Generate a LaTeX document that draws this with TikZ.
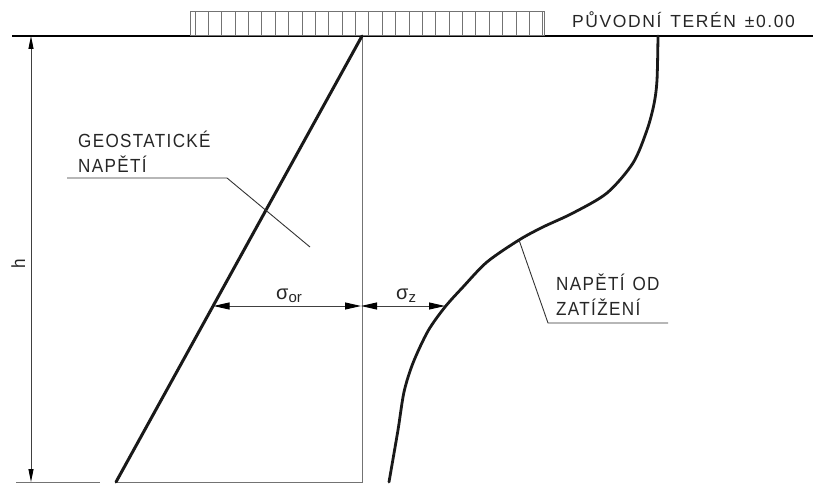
\documentclass[tikz,border=0pt]{standalone}
\usepackage{fontspec}
\setmainfont{Liberation Sans}
\newfontfamily\lblfont[LetterSpace=7,FakeStretch=0.9]{Liberation Sans}
\newfontfamily\topfont[LetterSpace=9]{Liberation Sans}
\usetikzlibrary{arrows.meta}
\begin{document}
\begin{tikzpicture}[x=1pt,y=-1pt,
  thinln/.style={line width=0.9pt,black!80},
  graylin/.style={line width=1pt,black!55},
  thickln/.style={line width=3pt,black!90,line cap=round},
  dim/.style={line width=0.9pt,black!75,{Triangle[length=16pt,width=7pt,color=black]}-{Triangle[length=16pt,width=7pt,color=black]}},
  hdim/.style={line width=0.9pt,black!75,{Triangle[length=13pt,width=5pt,color=black]}-{Triangle[length=13pt,width=5pt,color=black]}},
  lbl/.style={font=\fontsize{19}{25}\selectfont\lblfont,text=black!85,inner sep=0pt,anchor=base west,align=left},
  sig/.style={font=\fontsize{20}{22}\selectfont,text=black!85,inner sep=0pt}]
\useasboundingbox (0,0) rectangle (813,484);
% ground
\coordinate (g1) at (12,36); \coordinate (g2) at (813,36);
\draw[line width=1.1pt,black] (g1) -- (g2);
% hatch box
\coordinate (hb1) at (190,12); \coordinate (hb2) at (544,36);
\draw[graylin] (hb1) rectangle (hb2);
\foreach \i in {0,...,26}{\draw[graylin] ({195+\i*13.38},12) -- ({195+\i*13.38},36);}
\node[lbl,font=\fontsize{17.5}{20}\selectfont\topfont] (teren) at (572,28) {PŮVODNÍ\hspace{9pt}TERÉN\hspace{9pt}±0.00};
% dimension h
\coordinate (b1) at (16,482); \coordinate (b2) at (100,482);
\draw[graylin] (b1) -- (b2);
\coordinate (dt) at (31,36); \coordinate (db) at (31,482);
\draw[hdim] (dt) -- (db);
\node[lbl,rotate=90,anchor=base] (h) at (25,264) {h};
% geostatic triangle
\coordinate (tb) at (116,482); \coordinate (tt) at (362,36); \coordinate (tr) at (362,482);
\draw[graylin] (tb) -- (tr) -- (tt);
\draw[thickln] (tb) -- (tt);
% curve
\draw[line width=2.8pt,black!90,line cap=round] plot[smooth,tension=0.5] coordinates {(658,36) (657,80) (654,104) (647,130) (633,163) (607,193) (573,213) (543,227) (519,240) (487,262) (463,287) (445,307) (428,331) (413,363) (404,392) (398,430) (389,482)};
% sigma arrows
\coordinate (a1) at (213.5,306); \coordinate (a2) at (361,306); \coordinate (a3) at (445,306);
\draw[dim] (a1) -- (a2);
\draw[dim] (a2) -- (a3);
\node[sig,anchor=base west] (sor) at (276,299) {σ\textsubscript{\fontsize{15}{15}\selectfont or}};
\node[sig,anchor=base west] (sz) at (396,299) {σ\textsubscript{\fontsize{15}{15}\selectfont z}};
% geostatic label
\node[lbl] (geo) at (78,172) {GEOSTATICKÉ\\NAPĚTÍ};
\coordinate (l1) at (67,178); \coordinate (l2) at (227,178); \coordinate (l3) at (310,247);
\draw[thinln] (l1) -- (l2) -- (l3);
% load label
\node[lbl] (zat) at (556,315) {NAPĚTÍ\hspace{8pt}OD\\ZATÍŽENÍ};
\coordinate (m1) at (519,240); \coordinate (m2) at (548,323); \coordinate (m3) at (668,323);
\draw[thinln] (m1) -- (m2) -- (m3);
\end{tikzpicture}
\end{document}
